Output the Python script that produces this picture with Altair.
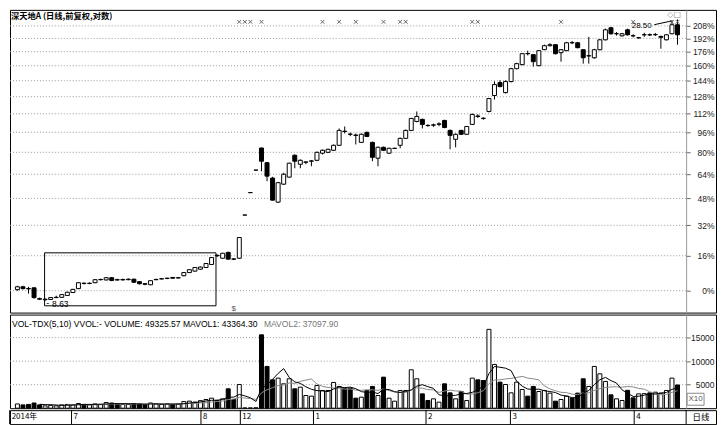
import altair as alt
import pandas as pd

BASE = 9.00  # price at 0%

OPEN = [9.04,9.15,9.08,9.11,8.70,8.66,8.67,8.74,8.75,8.82,8.93,9.08,9.29,9.28,9.31,9.43,9.42,9.51,9.43,9.42,
        9.43,9.45,9.35,9.27,9.23,9.43,9.46,9.48,9.52,9.50,9.59,9.72,9.78,9.86,9.93,10.06,10.46,10.33,10.59,10.30,10.33,
        12.41,13.65,15.02,16.50,15.50,14.52,13.11,14.15,14.58,16.00,15.40,15.53,15.60,
        15.66,16.14,16.20,16.34,16.69,17.72,17.50,17.43,16.90,17.63,16.90,15.80,16.55,16.14,16.47,16.69,17.19,17.78,18.47,18.63,
        18.16,18.18,18.25,18.55,17.78,17.12,17.78,17.49,18.24,18.90,18.72,19.27,20.62,21.79,20.88,
        21.88,23.11,23.51,24.65,24.53,23.41,25.06,25.48,25.59,24.74,24.95,25.82,25.80,25.05,24.40,24.21,25.05,26.13,27.50,26.81,26.57,27.26,
        26.58,26.35,26.69,26.69,26.70,26.40,26.13,26.81,27.85]
CLOSE = [9.15,9.08,9.07,8.74,8.68,8.68,8.74,8.75,8.85,8.94,9.05,9.31,9.28,9.29,9.43,9.44,9.51,9.40,9.42,9.44,
         9.45,9.33,9.27,9.25,9.39,9.44,9.47,9.49,9.49,9.51,9.72,9.84,9.93,9.95,10.10,10.36,10.44,10.55,10.29,10.29,11.28,
         12.41,13.65,15.02,15.60,14.64,13.22,14.24,14.76,15.47,15.60,15.66,15.55,15.62,
         16.20,16.34,16.41,16.69,17.78,17.70,17.49,17.41,17.49,17.33,15.86,16.55,16.34,16.48,16.48,17.19,17.78,18.71,18.87,18.24,
         18.15,18.20,18.28,18.00,17.41,17.49,17.49,18.08,19.03,18.87,18.71,20.36,21.60,21.42,21.88,
         23.11,23.61,24.63,24.63,23.81,24.95,25.48,25.59,24.63,25.05,25.80,25.80,25.27,24.21,24.42,25.05,26.13,27.26,26.81,26.82,26.81,26.69,
         26.57,26.36,26.70,26.68,26.72,26.50,26.69,27.85,26.69]
HIGH = [9.19,9.19,9.15,9.13,8.74,8.71,8.76,8.81,8.86,8.96,9.07,9.33,9.32,9.32,9.45,9.47,9.54,9.54,9.47,9.47,
        9.48,9.47,9.37,9.29,9.41,9.47,9.50,9.51,9.54,9.54,9.74,9.86,9.95,9.97,10.12,10.38,10.50,10.57,10.62,10.33,11.30,
        12.41,13.65,15.02,16.52,15.55,14.60,14.28,14.85,15.50,16.05,15.72,15.60,15.68,
        16.25,16.40,16.45,16.75,17.93,18.08,17.62,17.55,17.55,17.70,16.95,16.60,16.60,16.52,16.52,17.25,17.85,18.75,19.27,18.70,
        18.25,18.30,18.40,18.60,17.85,17.55,17.82,18.12,19.10,19.05,18.80,20.40,21.90,22.00,22.00,
        23.20,23.70,24.70,24.95,24.60,25.00,25.60,25.75,25.65,25.12,25.90,26.00,25.90,25.10,26.46,25.15,26.20,27.40,27.60,27.00,26.90,27.40,
        26.75,26.45,26.92,26.85,26.90,26.60,26.75,28.20,28.50]
LOW = [9.00,9.04,8.89,8.70,8.66,8.63,8.65,8.72,8.73,8.80,8.91,9.06,9.24,9.25,9.29,9.40,9.40,9.37,9.39,9.40,
       9.41,9.30,9.24,9.21,9.21,9.41,9.44,9.45,9.47,9.48,9.57,9.70,9.76,9.84,9.91,10.04,10.38,10.31,10.27,10.25,10.31,
       12.41,13.65,15.02,14.95,14.33,13.20,13.06,14.10,14.55,15.14,15.14,15.40,15.27,
       15.60,16.05,16.15,16.30,16.65,17.55,17.35,16.75,16.85,17.28,15.60,15.27,16.30,16.10,16.43,16.48,17.15,17.75,18.40,17.93,
       18.05,18.05,18.10,17.95,16.41,16.55,17.45,17.45,18.20,18.75,18.60,19.20,20.27,21.35,20.80,
       21.80,23.05,23.45,24.45,23.31,23.35,25.00,25.40,24.55,23.81,24.90,25.65,25.20,23.61,23.61,24.10,25.00,26.05,26.70,26.60,26.50,26.60,
       26.40,26.25,26.45,26.55,26.55,25.16,26.05,26.75,25.59]
VOLUME = [900,700,800,1100,700,500,600,500,700,800,700,1000,800,700,900,800,1200,1100,900,800,
          800,1000,900,700,1100,900,800,900,800,900,1400,1500,1300,1600,1850,2130,1640,1990,4120,1850,5040,
          60,60,90,15600,8880,6030,6390,5180,6250,4120,4470,2700,2560,
          4830,3770,3770,5470,4620,4260,4260,2130,2340,3770,4620,2700,6600,2130,1490,3770,3770,8160,6250,3050,
          1640,1990,1280,5180,3260,1990,3550,1640,6390,6030,5890,16760,9300,5540,5040,
          3260,5540,3980,2560,4620,3550,3770,3200,1490,1850,2560,2130,3200,6250,4620,8880,7300,5690,2840,1990,1640,3800,
          2200,3050,3100,3260,3400,3200,3770,6390,4933]

PCT_TICKS = [0, 16, 32, 48, 64, 80, 96, 112, 128, 144, 160, 176, 192, 208]
VOL_TICKS = [5000, 10000, 15000]
MONTH_IDX = [0, 11, 34, 41, 54, 74, 89, 111]
MONTH_LBL = ["2014年", "7", "8", "12", "1", "2", "3", "4"]
MARK_IDX = [40, 41, 42, 44, 55, 58, 61, 66, 69, 70, 82, 83, 98, 111, 118, 119]
SIGNAL_IDX = [39]
BOX_I = [4.9, 35.8]
BOX_P = [8.44, 10.57]
TITLE = "深天地A (日线,前复权,对数)"
VOL_HEAD1 = "VOL-TDX(5,10) VVOL:-  VOLUME: 49325.57  MAVOL1: 43364.30"
VOL_HEAD2 = "MAVOL2: 37097.90"

df = pd.DataFrame(dict(i=list(range(len(OPEN))), o=OPEN, c=CLOSE, h=HIGH, l=LOW, v=VOLUME))

W = 709
H1, H2, H3 = 304, 94, 14
AXW = 679  # plot part left of the right axis strip
OFF = AXW - W
CJK = "Noto Sans CJK SC"
LAT = "Liberation Sans"

xs = alt.Scale(domain=[-0.44, 125.04], nice=False, zero=False)
X = alt.X("i:Q", scale=xs, axis=None)
ys = alt.Scale(type="log", domain=[8.20, 29.67], nice=False)
PRICE_TICKS = [BASE * (1 + p / 100) for p in PCT_TICKS]
PAX = alt.Axis(orient="right", offset=OFF, values=PRICE_TICKS,
               labelExpr=f"format(datum.value/{BASE}-1, '.0%')",
               grid=False, domainColor="#999", tickColor="#666", tickSize=4,
               labelAlign="right", labelPadding=24, labelBaseline="middle",
               labelFont=LAT, labelFontSize=8.5, labelColor="#222", labelOverlap=False, title=None)

up_fill = alt.condition("datum.c >= datum.o", alt.value("white"), alt.value("black"))

grid = alt.Chart(pd.DataFrame({"p": PRICE_TICKS})).mark_rule(
    color="#999", strokeDash=[1, 2], strokeWidth=1).encode(
    y=alt.Y("p:Q", scale=ys, axis=PAX), x=alt.value(0), x2=alt.value(AXW))

box = alt.Chart(pd.DataFrame({"a": [BOX_I[0]], "b": [BOX_I[1]], "lo": [BOX_P[0]], "hi": [BOX_P[1]]})).mark_rect(
    fillOpacity=0, stroke="black", strokeWidth=1).encode(
    x=alt.X("a:Q", scale=xs, axis=None), x2="b:Q",
    y=alt.Y("lo:Q", scale=ys, axis=PAX), y2="hi:Q")

wick = alt.Chart(df).mark_rule(color="black", strokeWidth=1).encode(
    x=X, y=alt.Y("l:Q", scale=ys, axis=PAX), y2="h:Q")
body = alt.Chart(df).mark_bar(size=4, stroke="black", strokeWidth=1).encode(
    x=X, y=alt.Y("o:Q", scale=ys, axis=PAX), y2="c:Q", fill=up_fill)

marks = alt.Chart(pd.DataFrame({"i": MARK_IDX})).mark_point(
    shape="M-1,-1L1,1M-1,1L1,-1", size=14, filled=False, strokeWidth=1, color="#666", opacity=1).encode(
    x=X, y=alt.value(12))
signal = alt.Chart(pd.DataFrame({"i": SIGNAL_IDX})).mark_text(
    text="$", fontSize=8, color="#555", font=LAT).encode(x=X, y=alt.value(300))

lo_row = df.loc[[df["l"].idxmin()]].assign(t=lambda d: d["l"].map(lambda v: f"{v:.2f}"))
hi_row = df.loc[[df["h"].idxmax()]].assign(t=lambda d: d["h"].map(lambda v: f"{v:.2f}"))
lo_lab = alt.Chart(lo_row).mark_text(align="left", baseline="middle", dx=7, dy=3,
                                     fontSize=8.5, font=LAT, color="black").encode(
    x=X, y=alt.Y("l:Q", scale=ys, axis=PAX), text="t:N")
lo_line = alt.Chart(lo_row).mark_text(align="left", baseline="middle", dx=1, dy=2,
                                      fontSize=9, font=LAT, color="black", text="-").encode(
    x=X, y=alt.Y("l:Q", scale=ys, axis=PAX))
hi_lab = alt.Chart(hi_row).mark_text(align="right", baseline="middle", dx=-26, dy=7,
                                     fontSize=8, font=LAT, color="black").encode(
    x=X, y=alt.Y("h:Q", scale=ys, axis=PAX), text="t:N")
hi_line = alt.Chart(hi_row).transform_calculate(
    xa="datum.i - 4.2", xb="datum.i - 0.9", ya="datum.h / 1.023", yb="datum.h / 1.006").mark_rule(
    color="black", strokeWidth=1).encode(
    x=alt.X("xa:Q", scale=xs, axis=None), x2="xb:Q",
    y=alt.Y("ya:Q", scale=ys, axis=PAX), y2="yb:Q")

title = alt.Chart(pd.DataFrame({"t": [TITLE]})).mark_text(
    align="left", baseline="top", font=CJK, fontSize=8.3, fontWeight="bold", color="black").encode(
    text="t:N", x=alt.value(1), y=alt.value(2))
icons = alt.Chart(pd.DataFrame({"t": ["◇□"]})).mark_text(
    align="center", baseline="top", font="DejaVu Sans", fontSize=8, color="#888").encode(
    text="t:N", x=alt.value(667), y=alt.value(1))

price = alt.layer(grid, box, wick, body, marks, signal, lo_line, lo_lab, hi_line, hi_lab, title, icons).properties(
    width=W, height=H1)

# ---------------- volume panel ----------------
vs = alt.Scale(domain=[0, 19900], nice=False, zero=False)
VAX = alt.Axis(orient="right", offset=OFF, values=VOL_TICKS, format="d",
               grid=False, domainColor="#999", tickColor="#666", tickSize=4,
               labelAlign="right", labelPadding=24, labelBaseline="middle",
               labelFont=LAT, labelFontSize=8.5, labelColor="#222", labelOverlap=False, title=None)

vgrid = alt.Chart(pd.DataFrame({"p": VOL_TICKS})).mark_rule(
    color="#999", strokeDash=[1, 2], strokeWidth=1).encode(
    y=alt.Y("p:Q", scale=vs, axis=VAX), x=alt.value(0), x2=alt.value(AXW))
vbars = alt.Chart(df).mark_bar(size=4, stroke="black", strokeWidth=1).encode(
    x=X, y=alt.Y("v:Q", scale=vs, axis=VAX), fill=up_fill)
ma5 = alt.Chart(df).transform_window(
    ma="mean(v)", frame=[-4, 0], sort=[alt.SortField("i")]).transform_filter("datum.i >= 4").mark_line(
    color="black", strokeWidth=1).encode(x=X, y=alt.Y("ma:Q", scale=vs, axis=VAX))
ma10 = alt.Chart(df).transform_window(
    ma="mean(v)", frame=[-9, 0], sort=[alt.SortField("i")]).transform_filter("datum.i >= 9").mark_line(
    color="#888", strokeWidth=1).encode(x=X, y=alt.Y("ma:Q", scale=vs, axis=VAX))
head1 = alt.Chart(pd.DataFrame({"t": [VOL_HEAD1]})).mark_text(
    align="left", baseline="middle", font=LAT, fontSize=8.6, color="black").encode(
    text="t:N", x=alt.value(2), y=alt.value(9))
head2 = alt.Chart(pd.DataFrame({"t": [VOL_HEAD2]})).mark_text(
    align="left", baseline="middle", font=LAT, fontSize=8.6, color="#777").encode(
    text="t:N", x=alt.value(255), y=alt.value(9))
x10box = alt.Chart(pd.DataFrame({"a": [0]})).mark_rect(
    fill="white", stroke="#888", strokeWidth=1).encode(
    x=alt.value(680), x2=alt.value(697), y=alt.value(79), y2=alt.value(91))
x10txt = alt.Chart(pd.DataFrame({"t": ["X10"]})).mark_text(
    align="center", baseline="middle", font=LAT, fontSize=8, color="#555").encode(
    text="t:N", x=alt.value(688.5), y=alt.value(85))

volume = alt.layer(vgrid, vbars, ma10, ma5, head1, head2, x10box, x10txt).properties(width=W, height=H2)

# ---------------- date strip ----------------
mon = pd.DataFrame({"i": MONTH_IDX, "t": MONTH_LBL})
mticks = alt.Chart(mon).transform_calculate(pos="datum.i - 0.5").mark_rule(
    color="black", strokeWidth=1).encode(
    x=alt.X("pos:Q", scale=xs, axis=None), y=alt.value(0), y2=alt.value(H3))
mlabels = alt.Chart(mon).transform_calculate(pos="datum.i - 0.5").mark_text(
    align="left", baseline="middle", dx=2, font=CJK, fontSize=8, color="black").encode(
    x=alt.X("pos:Q", scale=xs, axis=None), y=alt.value(7), text="t:N")
sep = alt.Chart(pd.DataFrame({"a": [0]})).mark_rule(color="black", strokeWidth=1).encode(
    x=alt.value(AXW), y=alt.value(0), y2=alt.value(H3))
rlabel = alt.Chart(pd.DataFrame({"t": ["日线"]})).mark_text(
    align="center", baseline="middle", font=CJK, fontSize=8.5, color="black").encode(
    text="t:N", x=alt.value(694), y=alt.value(7))
dates = alt.layer(mticks, mlabels, sep, rlabel).properties(width=W, height=H3)

chart = alt.vconcat(price, volume, dates, spacing=0).properties(
    padding=0, background="white").configure_view(
    stroke="black", strokeWidth=1).configure_concat(spacing=0)

chart.save("out.html", embed_options={"renderer": "svg", "actions": False})
